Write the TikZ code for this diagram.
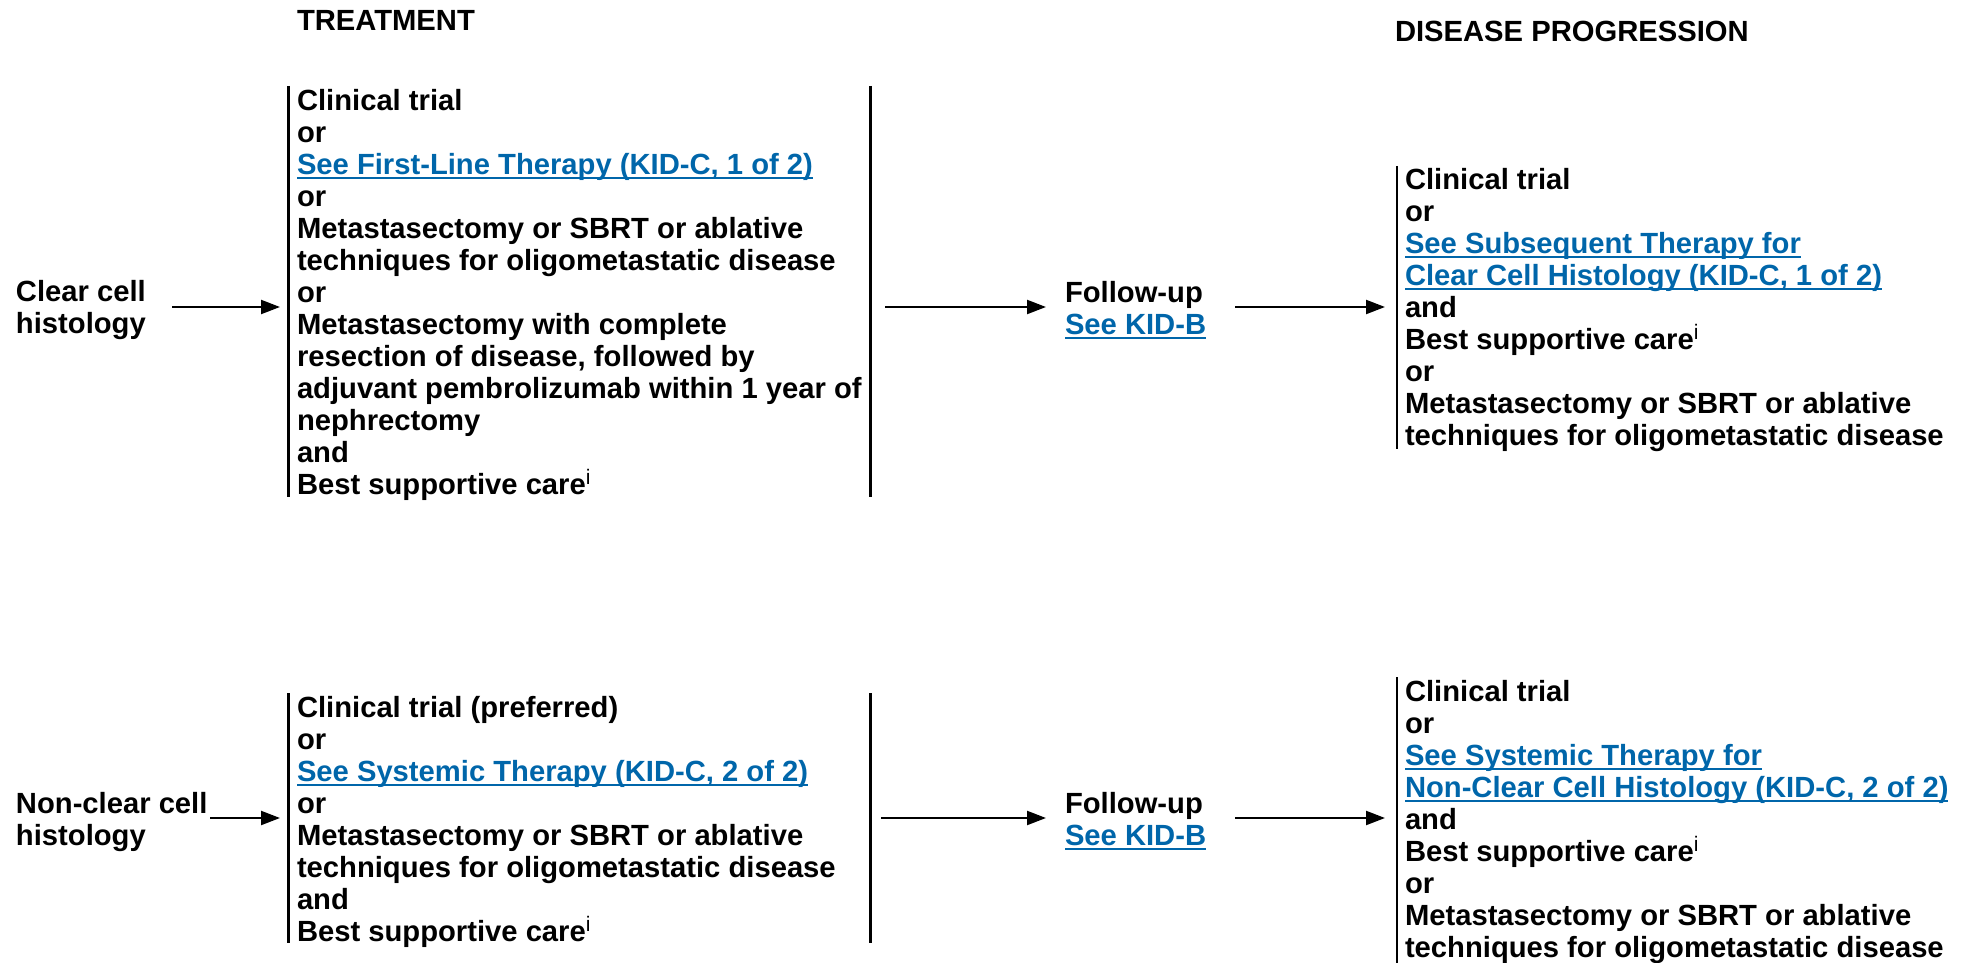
\documentclass[tikz,border=0pt]{standalone}
\usepackage{fontspec}
\setmainfont{Liberation Sans}
\usetikzlibrary{arrows.meta}

\definecolor{linkblue}{RGB}{0,102,170}
\newsavebox{\linkbox}
\newcommand{\seelink}[1]{{\color{linkblue}\sbox{\linkbox}{#1}\rlap{\rule[-2.6pt]{\wd\linkbox}{1.1pt}}\usebox{\linkbox}}}
\newcommand{\supi}{\raisebox{4.6pt}{\mdseries\fontsize{10.5}{10.5}\selectfont i}}

\begin{document}
\begin{tikzpicture}[
		x=0.5pt, y=-0.5pt,
		every node/.style={inner sep=0pt, outer sep=0pt, anchor=north west, align=left,
			font=\bfseries\fontsize{14.6}{16}\selectfont},
		arr/.style={line width=1.1pt, -{Triangle[length=9.5pt, width=7pt]}},
		brk/.style={line width=1.1pt}
	]
  \useasboundingbox (0,0) rectangle (1967,963);
  \node (hd_tx) [anchor=base west] at (297,31) {TREATMENT};
  \node (hd_pd) [anchor=base west] at (1395,42) {DISEASE PROGRESSION};

  \node (cc_lbl) at (16,278.6) {\strut Clear cell\\histology};
  \node (tx_1) at (297,87.6) {\strut Clinical trial\\or\\\seelink{See First-Line Therapy (KID-C, 1 of 2)}\\or\\Metastasectomy or SBRT or ablative\\techniques for oligometastatic disease\\or\\Metastasectomy with complete\\resection of disease, followed by\\adjuvant pembrolizumab within 1 year of\\nephrectomy\\and\\Best supportive care\supi};
  \node (fu_1) at (1065,279.6) {\strut Follow-up\\\seelink{See KID-B}};
  \node (pd_1) at (1405,166.6) {\strut Clinical trial\\or\\\seelink{See Subsequent Therapy for}\\\seelink{Clear Cell Histology (KID-C, 1 of 2)}\\and\\Best supportive care\supi\\or\\Metastasectomy or SBRT or ablative\\techniques for oligometastatic disease};

  \node (ncc_lbl) at (16,790.6) {\strut Non-clear cell\\histology};
  \node (tx_2) at (297,694.6) {\strut Clinical trial (preferred)\\or\\\seelink{See Systemic Therapy (KID-C, 2 of 2)}\\or\\Metastasectomy or SBRT or ablative\\techniques for oligometastatic disease\\and\\Best supportive care\supi};
  \node (fu_2) at (1065,790.6) {\strut Follow-up\\\seelink{See KID-B}};
  \node (pd_2) at (1405,678.6) {\strut Clinical trial\\or\\\seelink{See Systemic Therapy for}\\\seelink{Non-Clear Cell Histology (KID-C, 2 of 2)}\\and\\Best supportive care\supi\\or\\Metastasectomy or SBRT or ablative\\techniques for oligometastatic disease};

  \coordinate (br_1a) at (288.5,86);
  \coordinate (br_1b) at (288.5,497);
  \coordinate (br_1c) at (870.5,86);
  \coordinate (br_1d) at (870.5,497);
  \coordinate (br_1e) at (1397,166);
  \coordinate (br_1f) at (1397,449);
  \coordinate (br_2a) at (288.5,693);
  \coordinate (br_2b) at (288.5,943);
  \coordinate (br_2c) at (870.5,693);
  \coordinate (br_2d) at (870.5,943);
  \coordinate (br_2e) at (1397,677);
  \coordinate (br_2f) at (1397,963);
  \draw[brk] (br_1a) -- (br_1b) (br_1c) -- (br_1d) (br_1e) -- (br_1f);
  \draw[brk] (br_2a) -- (br_2b) (br_2c) -- (br_2d) (br_2e) -- (br_2f);

  \coordinate (a_11) at (172,307);
  \coordinate (a_12) at (280,307);
  \coordinate (a_13) at (885,307);
  \coordinate (a_14) at (1046,307);
  \coordinate (a_15) at (1235,307);
  \coordinate (a_16) at (1385,307);
  \coordinate (a_21) at (210,818);
  \coordinate (a_22) at (280,818);
  \coordinate (a_23) at (881,818);
  \coordinate (a_24) at (1046,818);
  \coordinate (a_25) at (1235,818);
  \coordinate (a_26) at (1385,818);
  \draw[arr] (a_11) -- (a_12);
  \draw[arr] (a_13) -- (a_14);
  \draw[arr] (a_15) -- (a_16);
  \draw[arr] (a_21) -- (a_22);
  \draw[arr] (a_23) -- (a_24);
  \draw[arr] (a_25) -- (a_26);
\end{tikzpicture}
\end{document}
